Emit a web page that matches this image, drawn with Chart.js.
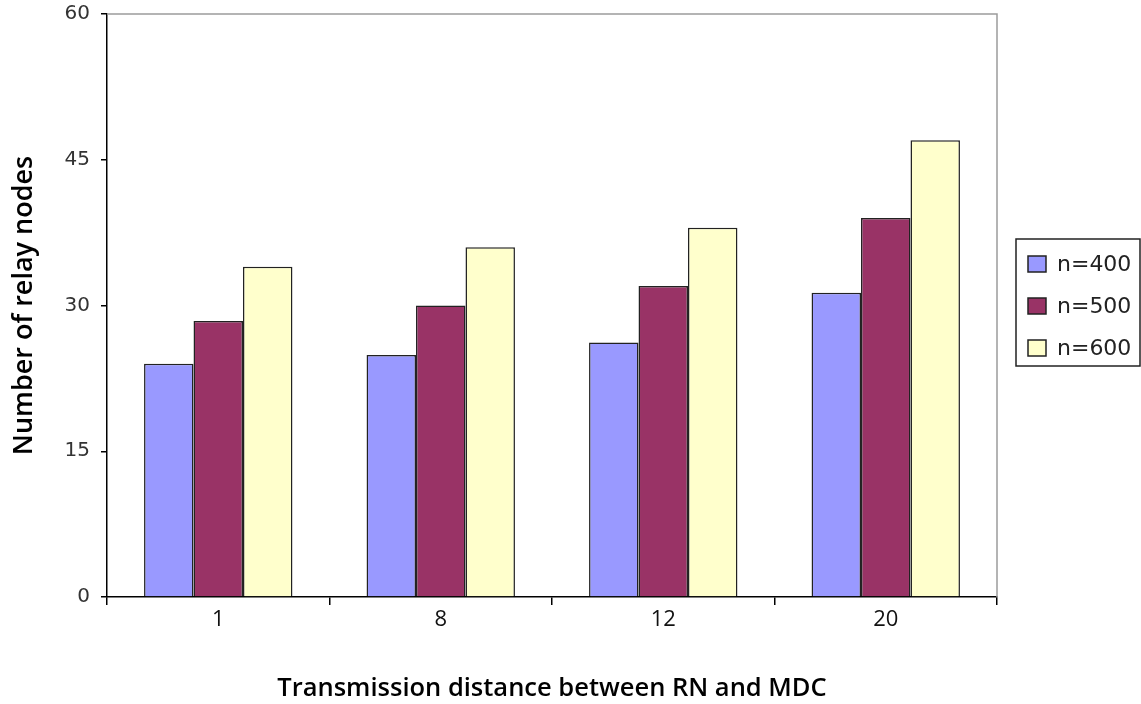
<!DOCTYPE html>
<html>
<head>
<meta charset="utf-8">
<script src="https://cdn.jsdelivr.net/npm/chart.js@4/dist/chart.umd.min.js"></script>
<style>
  html, body { margin: 0; padding: 0; background: #fff; overflow: hidden; }
</style>
</head>
<body>
<canvas id="relayChart" width="1141" height="704"></canvas>
<script>
// transmission distance between RN and MDC
const distances = ["1", "8", "12", "20"];

// number of relay nodes for each network size
const n400 = [24, 24.9, 26.2, 31.3];
const n500 = [28.4, 30, 32, 39];
const n600 = [34, 36, 38, 47];

const seriesLabels = ["n=400", "n=500", "n=600"];
const seriesColors = ["#9999ff", "#993366", "#ffffcc"];

const yMin = 0, yMax = 60, yStep = 15;

// grey frame on top/right of the plot plus the boxed key on the right
const frameAndKey = {
  id: "frameAndKey",
  afterDraw(chart) {
    const { ctx, chartArea: a } = chart;
    ctx.save();
    ctx.strokeStyle = "#9c9c9c";
    ctx.lineWidth = 1.5;
    ctx.beginPath();
    ctx.moveTo(a.left, a.top);
    ctx.lineTo(a.right, a.top);
    ctx.lineTo(a.right, a.bottom);
    ctx.stroke();

    const bx = a.right + 19, by = 239, bw = 124, bh = 127;
    ctx.strokeStyle = "#222";
    ctx.lineWidth = 1.5;
    ctx.strokeRect(bx, by, bw, bh);

    ctx.font = "22px 'DejaVu Sans', Verdana, sans-serif";
    ctx.textBaseline = "middle";
    chart.data.datasets.forEach((ds, i) => {
      const cy = by + 25 + i * 42;
      ctx.fillStyle = ds.backgroundColor;
      ctx.fillRect(bx + 12, cy - 8, 18, 16);
      ctx.strokeStyle = "#222";
      ctx.strokeRect(bx + 12, cy - 8, 18, 16);
      ctx.fillStyle = "#222";
      ctx.fillText(ds.label, bx + 41, cy + 1);
    });
    ctx.restore();
  }
};

const datasets = [n400, n500, n600].map((values, i) => ({
  label: seriesLabels[i],
  data: values,
  backgroundColor: seriesColors[i],
  borderColor: "#222",
  borderWidth: 1.5,
  barPercentage: 1,
  categoryPercentage: 0.667
}));

new Chart(document.getElementById("relayChart"), {
  type: "bar",
  data: { labels: distances, datasets: datasets },
  options: {
    responsive: false,
    animation: false,
    layout: { padding: { top: 14, right: 144, left: 0, bottom: 0 } },
    plugins: {
      legend: { display: false },
      tooltip: { enabled: false }
    },
    scales: {
      x: {
        afterFit(scale) { scale.height = 107; },
        grid: { offset: true, drawOnChartArea: false, tickLength: 8, color: "#000", lineWidth: 1.5 },
        border: { color: "#000", width: 1.5 },
        ticks: { color: "#111", padding: 2, font: { family: "'Open Sans'", size: 22 } },
        title: {
          display: true,
          text: "Transmission distance between RN and MDC",
          color: "#000",
          padding: { top: 0, bottom: 0 },
          font: { family: "'Open Sans'", size: 25.5, weight: "600" }
        }
      },
      y: {
        min: yMin,
        max: yMax,
        afterFit(scale) {
          scale.width = 107;
          scale.paddingTop = 0;
          scale.paddingBottom = 0;
        },
        grid: { drawOnChartArea: false, tickLength: 6, color: "#000", lineWidth: 1.5 },
        border: { color: "#000", width: 1.5 },
        ticks: { stepSize: yStep, color: "#333", padding: 11, font: { family: "'DejaVu Sans', Verdana, sans-serif", size: 20 } },
        title: {
          display: true,
          text: "Number of relay nodes",
          color: "#000",
          padding: { top: 8, bottom: 0 },
          font: { family: "'Open Sans'", size: 27, weight: "600" }
        }
      }
    }
  },
  plugins: [frameAndKey]
});
</script>
</body>
</html>
